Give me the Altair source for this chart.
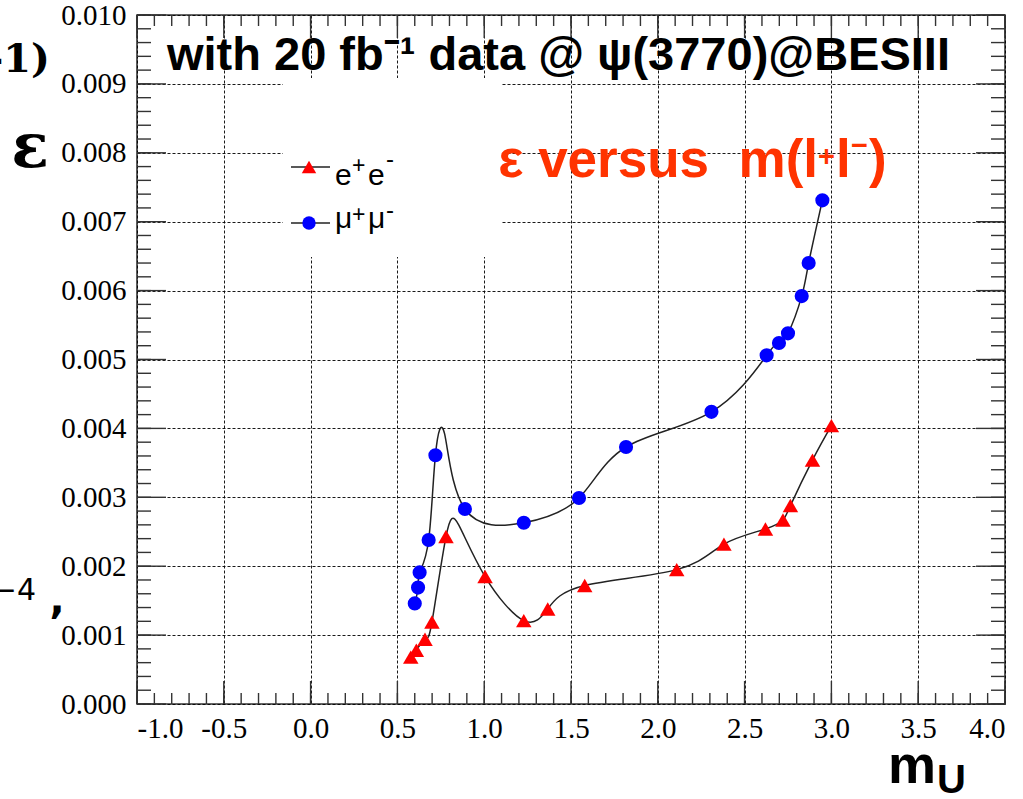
import altair as alt
import pandas as pd

# ---------------- data ----------------
mu_x = [0.600, 0.619, 0.628, 0.680, 0.719, 0.889, 1.228, 1.546, 1.817,
        2.309, 2.627, 2.698, 2.750, 2.829, 2.869, 2.948]
mu_y = [0.00146, 0.00169, 0.00191, 0.00238, 0.00361, 0.00283, 0.00263,
        0.00299, 0.00373, 0.00424, 0.00506, 0.00524, 0.00538, 0.00592,
        0.00640, 0.00731]

ee_x = [0.577, 0.609, 0.659, 0.699, 0.780, 1.005, 1.228, 1.366, 1.579,
        2.109, 2.381, 2.620, 2.721, 2.764, 2.891, 3.000]
ee_y = [0.00068, 0.00078, 0.00094, 0.00119, 0.00243, 0.00185, 0.00121,
        0.00138, 0.00172, 0.00195, 0.00232, 0.00254, 0.00267, 0.00288,
        0.00354, 0.00404]

# apex of each smooth curve (curve only, no marker)
mu_peak_x, mu_peak_y = [0.772], [0.00392]
ee_peak_x, ee_peak_y = [0.853], [0.00260]

x_major = [-1.0, -0.5, 0.0, 0.5, 1.0, 1.5, 2.0, 2.5, 3.0, 3.5, 4.0]
y_major = [0.000, 0.001, 0.002, 0.003, 0.004, 0.005, 0.006, 0.007, 0.008,
           0.009, 0.010]
x_minor = [round(-1.0 + 0.1 * i, 1) for i in range(51)]
y_minor = [round(0.0002 * i, 4) for i in range(51)]

title_text = "with 20 fb\u207b\u00b9 data @ \u03c8(3770)@BESIII"
red_main = "\u03b5 versus \u00a0m(l"
red_parts = ["+", "l", "\u2212", ")"]
legend_main = ["e", "\u03bc"]
legend_sup = ["+", "-"]

# ---------------- geometry ----------------
W, H = 868, 689
XD = [-1.0, 4.0]
YD = [0.0, 0.010]

xs = alt.Scale(domain=XD, nice=False, zero=False)
ys = alt.Scale(domain=YD, nice=False, zero=False)

SERIF = "Liberation Serif, Times New Roman, Times, serif"

x_axis = alt.Axis(values=x_major, grid=True, ticks=False, domain=False, title=None,
                  labelPadding=10, labelFont=SERIF, labelFontSize=29,
                  labelColor="black", gridDash=[3, 2], gridColor="black",
                  gridWidth=1, gridOpacity=0.9,
                  labelExpr="replace(format(datum.value, '.1f'), '\u2212', '-')")
y_axis = alt.Axis(values=y_major, grid=True, ticks=False, domain=False, title=None,
                  labelPadding=11, labelFont=SERIF, labelFontSize=29,
                  labelColor="black", gridDash=[3, 2], gridColor="black",
                  gridWidth=1, gridOpacity=0.9, format=".3f")


def X(f="x:Q"):
    return alt.X(f, scale=xs, axis=x_axis)


def Y(f="y:Q"):
    return alt.Y(f, scale=ys, axis=y_axis)


mu = pd.DataFrame({"x": mu_x, "y": mu_y})
ee = pd.DataFrame({"x": ee_x, "y": ee_y})
mu_curve = pd.DataFrame({"x": mu_x + mu_peak_x, "y": mu_y + mu_peak_y}).sort_values("x")
ee_curve = pd.DataFrame({"x": ee_x + ee_peak_x, "y": ee_y + ee_peak_y}).sort_values("x")

AXC = "#333333"
one = pd.DataFrame({"a": [0]})

axes = alt.Chart(pd.DataFrame({"x": [XD[0]], "y": [YD[0]]})).mark_point(opacity=0).encode(
    x=X(), y=Y())

# white legend box covering the grid
legend_box = alt.Chart(one).mark_rect(color="white").encode(
    x=alt.value(146), x2=alt.value(365), y=alt.value(63), y2=alt.value(242))

# ticks (inward, ROOT style)
xmaj = pd.DataFrame({"x": x_major})
xmin = pd.DataFrame({"x": x_minor})
ymaj = pd.DataFrame({"y": y_major})
ymin = pd.DataFrame({"y": y_minor})
tick_style = dict(color=AXC, strokeWidth=1.4)

ticks = [
    alt.Chart(xmaj).mark_rule(**tick_style).encode(x=X(), y=alt.value(H), y2=alt.value(H - 23)),
    alt.Chart(xmin).mark_rule(**tick_style).encode(x=X(), y=alt.value(H), y2=alt.value(H - 11)),
    alt.Chart(xmaj).mark_rule(**tick_style).encode(x=X(), y=alt.value(0), y2=alt.value(23)),
    alt.Chart(xmin).mark_rule(**tick_style).encode(x=X(), y=alt.value(0), y2=alt.value(11)),
    alt.Chart(ymaj).mark_rule(**tick_style).encode(y=Y(), x=alt.value(0), x2=alt.value(29)),
    alt.Chart(ymin).mark_rule(**tick_style).encode(y=Y(), x=alt.value(0), x2=alt.value(14)),
    alt.Chart(ymaj).mark_rule(**tick_style).encode(y=Y(), x=alt.value(W), x2=alt.value(W - 29)),
    alt.Chart(ymin).mark_rule(**tick_style).encode(y=Y(), x=alt.value(W), x2=alt.value(W - 14)),
]

# curves
line_style = dict(color="#222222", strokeWidth=1.5, interpolate="natural")
mu_line = alt.Chart(mu_curve).mark_line(**line_style).encode(x=X(), y=Y(), order="x:Q")
ee_line = alt.Chart(ee_curve).mark_line(**line_style).encode(x=X(), y=Y(), order="x:Q")

mu_pts = alt.Chart(mu).mark_circle(color="#0000ff", size=200, opacity=1).encode(x=X(), y=Y())
ee_pts = alt.Chart(ee).mark_point(shape="triangle-up", filled=True, color="#ff0000",
                                  size=240, opacity=1).encode(x=X(), y=Y())

# legend
lfont = dict(font="Liberation Sans", align="left", baseline="alphabetic", color="black")
leg = [
    alt.Chart(one).mark_rule(color="#222222", strokeWidth=1.5).encode(
        x=alt.value(154), x2=alt.value(193), y=alt.value(152)),
    alt.Chart(one).mark_point(shape="triangle-up", filled=True, color="#ff0000",
                              size=210, opacity=1).encode(x=alt.value(172), y=alt.value(152)),
    alt.Chart(one).mark_rule(color="#222222", strokeWidth=1.5).encode(
        x=alt.value(154), x2=alt.value(193), y=alt.value(208)),
    alt.Chart(one).mark_circle(color="#0000ff", size=180, opacity=1).encode(
        x=alt.value(172), y=alt.value(208)),
    # e+ e-
    alt.Chart(one).mark_text(text=legend_main[0], fontSize=30, **lfont).encode(
        x=alt.value(198), y=alt.value(170)),
    alt.Chart(one).mark_text(text=legend_sup[0], fontSize=23, **lfont).encode(
        x=alt.value(215), y=alt.value(158)),
    alt.Chart(one).mark_text(text=legend_main[0], fontSize=30, **lfont).encode(
        x=alt.value(231), y=alt.value(170)),
    alt.Chart(one).mark_text(text=legend_sup[1], fontSize=24, **lfont).encode(
        x=alt.value(249), y=alt.value(152)),
    # mu+ mu-
    alt.Chart(one).mark_text(text=legend_main[1], fontSize=30, **lfont).encode(
        x=alt.value(198), y=alt.value(213)),
    alt.Chart(one).mark_text(text=legend_sup[0], fontSize=23, **lfont).encode(
        x=alt.value(215), y=alt.value(207)),
    alt.Chart(one).mark_text(text=legend_main[1], fontSize=30, **lfont).encode(
        x=alt.value(231), y=alt.value(213)),
    alt.Chart(one).mark_text(text=legend_sup[1], fontSize=24, **lfont).encode(
        x=alt.value(249), y=alt.value(203)),
]

# red label in pieces (superscripts)
rfont = dict(font="Liberation Sans", fontWeight="bold", baseline="alphabetic", color="#ff3300")
red = [
    alt.Chart(one).mark_text(text=red_main, fontSize=53, align="right", **rfont).encode(
        x=alt.value(681), y=alt.value(162)),
    alt.Chart(one).mark_text(text=red_parts[0], fontSize=29, align="left", **rfont).encode(
        x=alt.value(681), y=alt.value(151)),
    alt.Chart(one).mark_text(text=red_parts[1], fontSize=53, align="left", **rfont).encode(
        x=alt.value(699), y=alt.value(162)),
    alt.Chart(one).mark_text(text=red_parts[2], fontSize=29, align="left", **rfont).encode(
        x=alt.value(714), y=alt.value(140)),
    alt.Chart(one).mark_text(text=red_parts[3], fontSize=53, align="left", **rfont).encode(
        x=alt.value(732), y=alt.value(162)),
]

texts = [
    alt.Chart(one).mark_text(text=title_text, font="Liberation Sans", fontWeight="bold",
                             fontSize=47, align="left", baseline="alphabetic",
                             color="black").encode(x=alt.value(30), y=alt.value(55)),
    alt.Chart(one).mark_text(text="\u03b5", font="DejaVu Serif", fontWeight="bold",
                             fontSize=62, align="center", baseline="alphabetic",
                             color="black").encode(x=alt.value(-107), y=alt.value(152)),
    alt.Chart(one).mark_text(text="-1)", font="DejaVu Serif", fontWeight="bold",
                             fontSize=40, align="right", baseline="alphabetic",
                             color="black").encode(x=alt.value(-87), y=alt.value(57)),
    alt.Chart(one).mark_text(text="\u22124", font="DejaVu Sans",
                             fontSize=30, align="right", baseline="alphabetic",
                             color="black").encode(x=alt.value(-101), y=alt.value(585)),
    alt.Chart(one).mark_text(text=",", font="DejaVu Sans", fontWeight="bold",
                             fontSize=40, align="center", baseline="alphabetic",
                             color="black").encode(x=alt.value(-80), y=alt.value(598)),
    alt.Chart(one).mark_text(text="m", font="Liberation Sans", fontWeight="bold",
                             fontSize=54, align="left", baseline="alphabetic",
                             color="black").encode(x=alt.value(751), y=alt.value(768)),
    alt.Chart(one).mark_text(text="U", font="Liberation Sans", fontWeight="bold",
                             fontSize=40, align="left", baseline="alphabetic",
                             color="black").encode(x=alt.value(800), y=alt.value(778)),
]

chart = alt.layer(axes, legend_box, *ticks, mu_line, ee_line, mu_pts, ee_pts,
                  *leg, *red, *texts).properties(
    width=W, height=H,
    autosize=alt.AutoSizeParams(type="none"),
    padding={"left": 137, "top": 15, "right": 18, "bottom": 95},
    background="white",
).configure_view(stroke=AXC, strokeWidth=1.6)

chart.save("out.html", embed_options={"renderer": "svg", "actions": False})
